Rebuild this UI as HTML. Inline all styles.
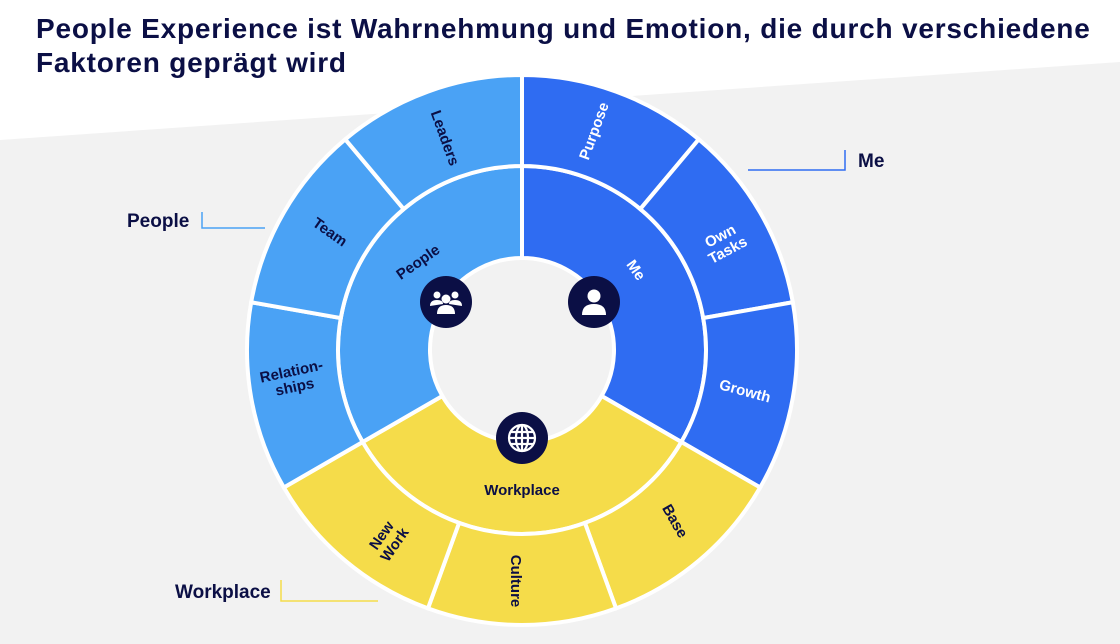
<!DOCTYPE html>
<html><head><meta charset="utf-8"><style>
html,body{margin:0;padding:0;width:1120px;height:644px;overflow:hidden;background:#fff;font-family:"Liberation Sans",sans-serif}
</style></head><body>
<svg id="chart" width="1120" height="644" viewBox="0 0 1120 644" xmlns="http://www.w3.org/2000/svg">
<polygon points="0,140 1120,62 1120,644 0,644" fill="#f2f2f2"/>
<text x="36" y="38" font-size="28" font-weight="bold" letter-spacing="0.8" fill="#0b0f45">People Experience ist Wahrnehmung und Emotion, die durch verschiedene</text>
<text x="36" y="72" font-size="28" font-weight="bold" letter-spacing="0.8" fill="#0b0f45">Faktoren geprägt wird</text>
<g id="rings"></g>
<g>
<polyline points="748,170 845,170 845,150" fill="none" stroke="#2f6cf2" stroke-width="1.5"/>
<text x="858" y="167" font-size="19" font-weight="bold" fill="#0b0f45">Me</text></g>
<g>
<polyline points="202,212 202,228 265,228" fill="none" stroke="#4aa2f5" stroke-width="1.5"/>
<text x="127" y="227" font-size="19" font-weight="bold" fill="#0b0f45">People</text></g>
<g>
<polyline points="281,580 281,601 378,601" fill="none" stroke="#f5dc4a" stroke-width="1.5"/>
<text x="175" y="598" font-size="19" font-weight="bold" fill="#0b0f45">Workplace</text></g>
</svg>
<script>
const groups=["Me","Workplace","People"];
const groupWeights=[1,1,1];
const groupColors=["#2f6cf2","#f5dc4a","#4aa2f5"];
const factors=["Purpose","Own Tasks","Growth","Base","Culture","New Work","Relationships","Team","Leaders"];
const factorWeights=[1,1,1,1,1,1,1,1,1];
const factorGroup=[0,0,0,1,1,1,2,2,2];
const CX=522,CY=350,R0=92,R1=184,R2=275;
const NS="http://www.w3.org/2000/svg";
const g=document.getElementById('rings');
function pt(r,a){const t=a*Math.PI/180;return [CX+r*Math.sin(t),CY-r*Math.cos(t)];}
function arc(r1,r2,a1,a2){const [x1,y1]=pt(r2,a1),[x2,y2]=pt(r2,a2),[x3,y3]=pt(r1,a2),[x4,y4]=pt(r1,a1);const l=(a2-a1)>180?1:0;
return `M${x1},${y1}A${r2},${r2} 0 ${l} 1 ${x2},${y2}L${x3},${y3}A${r1},${r1} 0 ${l} 0 ${x4},${y4}Z`;}
function mk(tag,attrs){const e=document.createElementNS(NS,tag);for(const k in attrs)e.setAttribute(k,attrs[k]);return e;}
const hole=mk('circle',{cx:CX,cy:CY,r:R0,fill:'#f2f2f2'});


g.appendChild(hole);
const gt=groupWeights.reduce((a,b)=>a+b,0);let a=0;
groups.forEach((n,i)=>{const s=a,e=a+360*groupWeights[i]/gt;a=e;
const p=mk('path',{d:arc(R0,R1,s,e),fill:groupColors[i],stroke:'#fff','stroke-width':4});


g.appendChild(p);});
const ft=factorWeights.reduce((a,b)=>a+b,0);a=0;
factors.forEach((n,i)=>{const s=a,e=a+360*factorWeights[i]/ft;a=e;
const p=mk('path',{d:arc(R1,R2,s,e),fill:groupColors[factorGroup[i]],stroke:'#fff','stroke-width':4});


g.appendChild(p);});
const labels=[
["Me",636,270,55,"#fff",15,["Me"]],
["Workplace",522,490,0,"#0b0f45",15,["Workplace"]],
["People",418,262,-35,"#0b0f45",15,["People"]],
["Purpose",594,131,-70,"#fff",15,["Purpose"]],
["Own Tasks",724,243,-28,"#fff",15,["Own","Tasks"]],
["Growth",745,391,15,"#fff",15,["Growth"]],
["Base",675,521,60,"#0b0f45",15,["Base"]],
["Culture",516,581,90,"#0b0f45",15,["Culture"]],
["New Work",388,540,-55,"#0b0f45",15,["New","Work"]],
["Relationships",293,379,-12,"#0b0f45",15,["Relation-","ships"]],
["Team",330,232,35,"#0b0f45",15,["Team"]],
["Leaders",445,138,70,"#0b0f45",15,["Leaders"]]];
labels.forEach(([n,x,y,r,c,fs,lines])=>{
const t=mk('text',{x:x,y:y,'text-anchor':'middle','font-size':fs,'font-weight':'bold',fill:c,transform:`rotate(${r} ${x} ${y})`});


lines.forEach((l,k)=>{const ts=mk('tspan',{x:x,y:y+5+(k-(lines.length-1)/2)*16});ts.textContent=l;t.appendChild(ts);});
g.appendChild(t);});
const icons=[["icon-people",446,302],["icon-me",594,302],["icon-workplace",522,438]];
icons.forEach(([n,x,y])=>{const c=mk('circle',{cx:x,cy:y,r:26,fill:'#0b0f45'});


g.appendChild(c);});
const w='#fff';
g.insertAdjacentHTML('beforeend',`
<g fill="${w}">
<circle cx="437" cy="295" r="3.5"/><circle cx="455" cy="295" r="3.5"/><circle cx="446" cy="299" r="4.5"/>
<path d="M430,306 q0,-6 7,-6 q6,0 6,4 z M462,306 q0,-6 -7,-6 q-6,0 -6,4 z M437,314 q0,-9 9,-9 q9,0 9,9 z"/></g>
<g fill="${w}">
<circle cx="594" cy="296" r="6.5"/><path d="M582,315 q0,-11 12,-11 q12,0 12,11 z"/></g>
<g fill="none" stroke="${w}" stroke-width="2.2">
<circle cx="522" cy="438" r="13"/><ellipse cx="522" cy="438" rx="6" ry="13"/>
<line x1="509" y1="438" x2="535" y2="438"/><line x1="522" y1="425" x2="522" y2="451"/>
<line x1="511" y1="432" x2="533" y2="432"/><line x1="511" y1="444" x2="533" y2="444"/></g>`);
</script>
</body></html>
